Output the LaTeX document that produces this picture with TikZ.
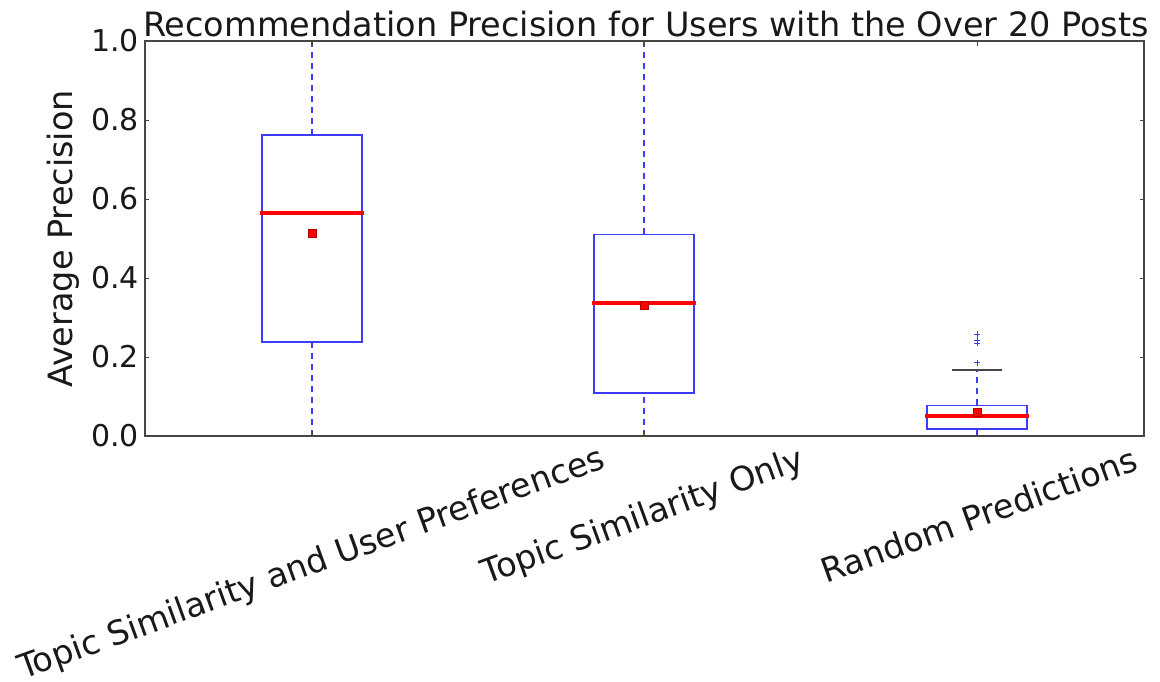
\documentclass[tikz,border=0pt]{standalone}
\usepackage{fontspec}
\setmainfont{DejaVu Sans}
\definecolor{boxblue}{RGB}{60,60,255}
\definecolor{medred}{RGB}{255,0,0}
\definecolor{axisgray}{RGB}{70,70,70}
\definecolor{txt}{RGB}{25,25,25}
\begin{document}
\begin{tikzpicture}[x=1pt,y=-1pt,
  ticklbl/.style={text=txt,font=\fontsize{30}{36}\selectfont,inner sep=0pt},
  lbl/.style={text=txt,font=\fontsize{33.5}{40}\selectfont,inner sep=0pt},
  boxline/.style={draw=boxblue,line width=1.3pt},
  whisker/.style={draw=boxblue,line width=1.3pt,dash pattern=on 6pt off 5pt},
  capline/.style={draw=axisgray,line width=1.6pt},
  median/.style={draw=medred,line width=4.5pt},
  meanmark/.style={fill=medred,draw=red!70!black,line width=0.5pt,minimum size=8pt,inner sep=0pt,rectangle},
  flier/.style={draw=boxblue,line width=1pt},
  frameline/.style={draw=axisgray,line width=1.4pt},
  tickline/.style={draw=axisgray,line width=0.8pt}]
\useasboundingbox (0,0) rectangle (1160,682);

% data area: value v sits at 436 - 395 v
\begin{scope}[shift={(0,436)},y=395pt]
  % whiskers (dashed, behind the boxes)
  \draw[whisker] (312,0.762) -- (312,1);
  \draw[whisker] (312,0) -- (312,0.238);
  \draw[whisker] (644,0.511) -- (644,1);
  \draw[whisker] (644,0) -- (644,0.109);
  \draw[whisker] (977,0.078) -- (977,0.167);
  \draw[whisker] (977,0) -- (977,0.018);

  % boxes
  \draw[boxline] (262,0.238) rectangle (362,0.762);
  \draw[boxline] (594,0.109) rectangle (694,0.511);
  \draw[boxline] (927,0.018) rectangle (1027,0.078);

  % frame of the axes
  \draw[frameline] (145,0) rectangle (1144,1);

  % y ticks on both sides
  \foreach \v in {0.2,0.4,0.6,0.8} {
    \draw[tickline] (145,\v) -- (149,\v);
    \draw[tickline] (1144,\v) -- (1140,\v);
  }
  % x ticks on both sides
  \foreach \u in {312,644,977} {
    \draw[tickline] (\u,0) -- (\u,0.012);
    \draw[tickline] (\u,1) -- (\u,0.988);
  }

  % whisker caps
  \draw[capline] (287,1) -- (337,1);
  \draw[capline] (287,0) -- (337,0);
  \draw[capline] (619,1) -- (669,1);
  \draw[capline] (619,0) -- (669,0);
  \draw[capline] (952,0.167) -- (1002,0.167);
  \draw[capline] (952,0) -- (1002,0);

  % medians
  \draw[median] (260,0.565) -- (364,0.565);
  \draw[median] (592,0.337) -- (696,0.337);
  \draw[median] (925,0.051) -- (1029,0.051);

  % means
  \node[meanmark] (mean1) at (312,0.514) {};
  \node[meanmark] (mean2) at (644,0.33) {};
  \node[meanmark] (mean3) at (977,0.06) {};

  % outliers of the random predictions
  \foreach \v in {0.258,0.243,0.235,0.185} {
    \draw[flier] (974,\v) -- (980,\v);
    \draw[flier] (977,\v) ++(0,0.0076) -- ++(0,-0.0152);
  }

  % y tick labels
  \foreach \v/\t in {0/0.0,0.2/0.2,0.4/0.4,0.6/0.6,0.8/0.8,1/1.0} {
    \node[ticklbl,anchor=east] (yt\t) at (139,\v) {\t};
  }
\end{scope}

% title and axis labels
\node[lbl,anchor=base] (title) at (646,37) {Recommendation Precision for Users with the Over 20 Posts};
\node[lbl,rotate=90] (ylab) at (63,239) {Average Precision};
\node[lbl,rotate=20] (xl1) at (312,565) {Topic Similarity and User Preferences};
\node[lbl,rotate=20] (xl2) at (643,518) {Topic Similarity Only};
\node[lbl,rotate=20] (xl3) at (979,515) {Random Predictions};
\end{tikzpicture}
\end{document}
